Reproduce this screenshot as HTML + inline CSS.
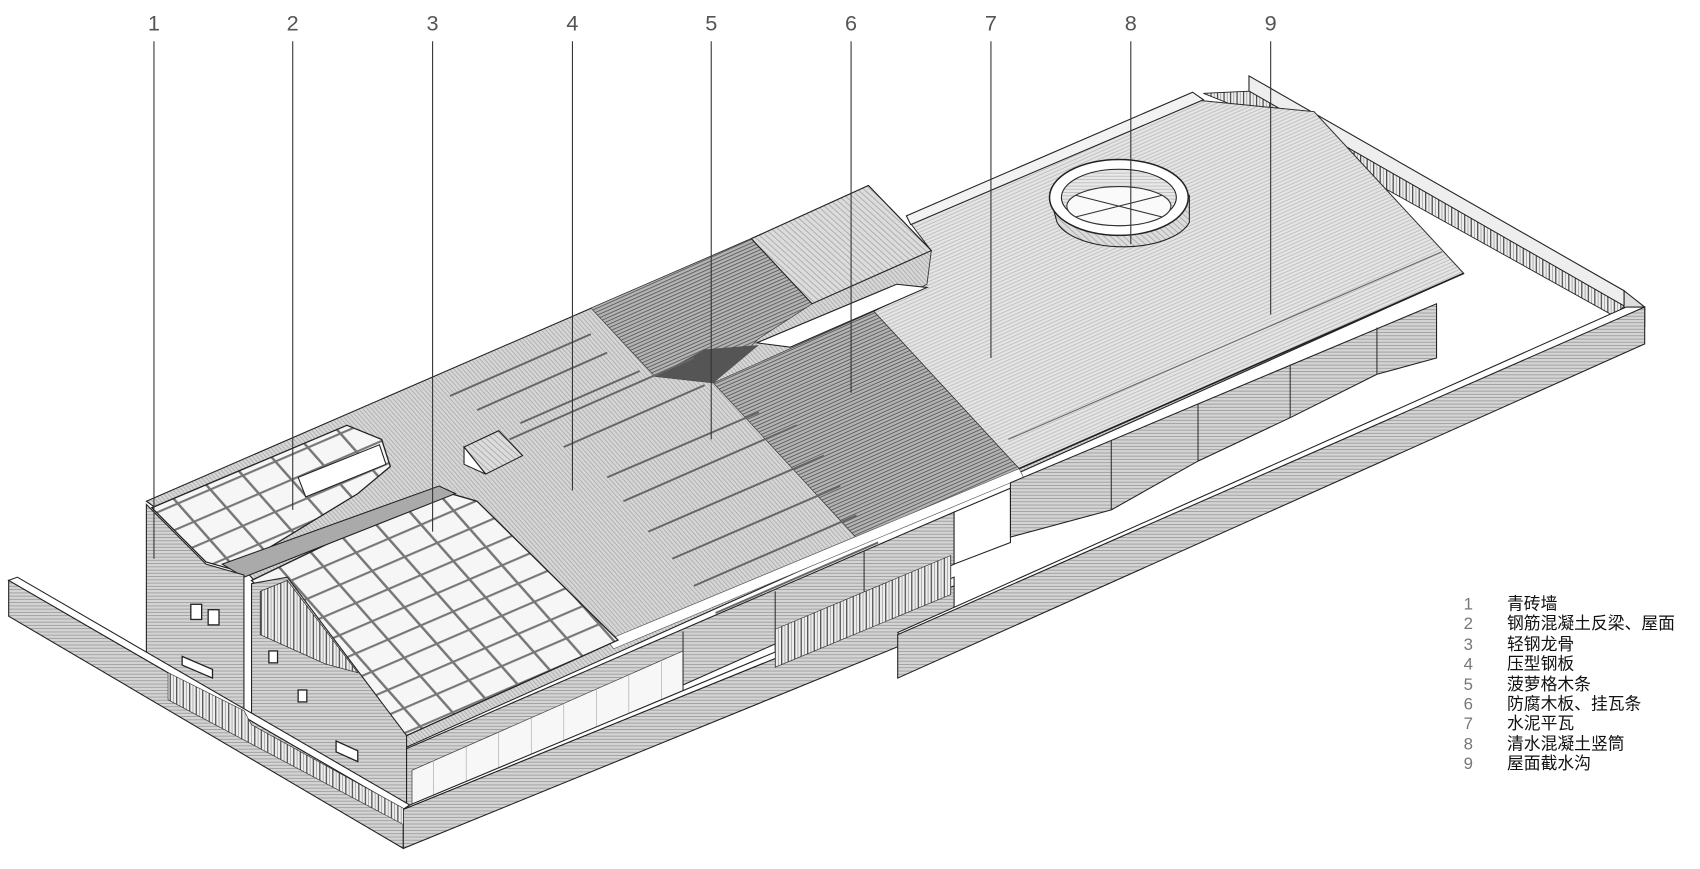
<!DOCTYPE html>
<html><head><meta charset="utf-8"><style>
html,body{margin:0;padding:0;background:#fff;}
svg{display:block;}
</style></head><body>
<svg width="1700" height="869" viewBox="0 0 1568 801" preserveAspectRatio="none" xmlns="http://www.w3.org/2000/svg">
<defs>
<pattern id="h1" width="4" height="3" patternUnits="userSpaceOnUse"><rect width="4" height="3" fill="#e8e8e8"/><line x1="0" y1="0.5" x2="4" y2="0.5" stroke="#b0b0b0" stroke-width="0.6"/></pattern>
<pattern id="hw" width="4" height="3" patternUnits="userSpaceOnUse"><rect width="4" height="3" fill="#d4d4d4"/><line x1="0" y1="0.5" x2="4" y2="0.5" stroke="#8a8a8a" stroke-width="0.6"/></pattern>
<pattern id="h2" width="3" height="3" patternUnits="userSpaceOnUse" patternTransform="rotate(-24)"><rect width="3" height="3" fill="#b4b4b4"/><line x1="0" y1="0.5" x2="3" y2="0.5" stroke="#555" stroke-width="0.8"/></pattern>
<pattern id="h3" width="3" height="3" patternUnits="userSpaceOnUse" patternTransform="rotate(48)"><rect width="3" height="3" fill="#d6d6d6"/><line x1="0" y1="0.5" x2="3" y2="0.5" stroke="#a0a0a0" stroke-width="0.6"/></pattern>
<pattern id="h1t" width="4" height="3" patternUnits="userSpaceOnUse" patternTransform="rotate(-24)"><rect width="4" height="3" fill="#e4e4e4"/><line x1="0" y1="0.5" x2="4" y2="0.5" stroke="#b0b0b0" stroke-width="0.6"/></pattern>
<pattern id="h4" width="4" height="4" patternUnits="userSpaceOnUse" patternTransform="rotate(42)"><rect width="4" height="4" fill="#dcdcdc"/><line x1="0" y1="0.5" x2="4" y2="0.5" stroke="#999" stroke-width="0.6"/></pattern>
<pattern id="v1" width="6" height="6" patternUnits="userSpaceOnUse"><rect width="6" height="6" fill="#eee"/><line x1="1" y1="0" x2="1" y2="6" stroke="#444" stroke-width="1.1"/><line x1="4" y1="0" x2="4" y2="6" stroke="#888" stroke-width="0.6"/></pattern>
<pattern id="gl" width="30" height="24" patternUnits="userSpaceOnUse" patternTransform="matrix(1,-0.43,0.62,0.7,0,0)"><rect width="30" height="24" fill="#f6f6f6"/><rect x="0" y="0" width="30" height="2.2" fill="#777"/><rect x="0" y="0" width="2.2" height="24" fill="#777"/></pattern>
</defs>

<!-- right back perimeter wall -->
<polygon points="1152,70 1498,268 1498,282 1152,84" fill="#eee" stroke="#222" stroke-width="1"/>
<polygon points="1110,86 1152,84 1498,282 1490,292 1145,100" fill="url(#v1)" stroke="#222" stroke-width="0.8"/>
<polygon points="1498,268 1517,283 1517,300 1498,285" fill="#ddd" stroke="#222"/>

<!-- roof base (steel 4) -->
<polygon points="135,462 693,220 801,171 859,231 840,206 1100,92 1212,103 1350,252 372,690 230,530" fill="url(#h3)" stroke="#222" stroke-width="1"/>

<!-- tile region 7 -->
<polygon points="806,287 855,262 859,231 840,206 1100,92 1212,103 1350,252 940,432" fill="url(#h1t)" stroke="#333" stroke-width="0.8"/>
<!-- back strip -->
<polygon points="836,199 1100,85 1110,92 840,207" fill="#f2f2f2" stroke="#222" stroke-width="1"/>
<!-- dark corrugated bands 5/6 -->
<polygon points="545,284 693,220 749,280 700,312 658,353 604,347" fill="url(#h2)" stroke="#333" stroke-width="0.6"/>
<polygon points="658,353 806,287 940,432 792,498" fill="url(#h2)" stroke="#333" stroke-width="0.6"/>
<polygon points="604,347 658,353 700,318 650,322" fill="#555"/>
<!-- raised panel -->
<polygon points="693,220 801,171 859,231 749,280" fill="url(#h4)" stroke="#222" stroke-width="1"/>
<!-- skylight slot -->
<polygon points="698,316 729,320 855,265 827,262" fill="#fff" stroke="#222"/>
<!-- small box -->
<polygon points="428,412 460,397 482,420 448,437" fill="url(#h4)" stroke="#222"/>
<polygon points="428,412 448,437 428,428" fill="#fff" stroke="#222"/>
<!-- stripes on steel -->
<g stroke="#666" stroke-width="1.8">
<line x1="415" y1="365" x2="545" y2="308"/><line x1="440" y1="378" x2="560" y2="325"/><line x1="480" y1="390" x2="590" y2="342"/>
<line x1="470" y1="405" x2="640" y2="330"/><line x1="520" y1="412" x2="650" y2="355"/>
<line x1="560" y1="440" x2="700" y2="380"/><line x1="575" y1="462" x2="735" y2="392"/><line x1="598" y1="490" x2="760" y2="420"/>
<line x1="620" y1="515" x2="775" y2="448"/><line x1="640" y1="540" x2="790" y2="475"/><line x1="660" y1="565" x2="810" y2="500"/>
</g>
<!-- eave light strip -->
<polygon points="560,590 940,432 944,440 566,598" fill="#fff" stroke="#555" stroke-width="0.6"/>

<!-- glass roofs -->
<polygon points="140,468 320,392 352,405 360,430 330,455 215,525 190,518" fill="url(#gl)" stroke="#222" stroke-width="1.2"/>
<polygon points="232,535 405,452 440,462 570,590 375,678" fill="url(#gl)" stroke="#222" stroke-width="1.2"/>
<polygon points="205,520 405,448 420,455 225,532" fill="#aaa" stroke="#222"/>
<polygon points="275,440 350,410 356,428 282,458" fill="#fff" stroke="#222"/>

<!-- left gable walls -->
<polygon points="135,465 190,520 225,530 225,690 135,640" fill="url(#hw)" stroke="#222" stroke-width="1"/>
<polygon points="232,538 265,532 375,678 375,745 232,668" fill="url(#hw)" stroke="#222" stroke-width="1"/>
<polygon points="240,545 265,535 330,620 300,612 240,585" fill="url(#v1)" stroke="#222" stroke-width="0.6"/>
<g fill="#fff" stroke="#222" stroke-width="1.2">
<rect x="176" y="557" width="10" height="14"/><rect x="192" y="562" width="10" height="14"/>
<polygon points="168,605 196,617 196,625 168,613"/>
<rect x="248" y="600" width="8" height="11"/><rect x="275" y="636" width="8" height="11"/>
<polygon points="310,683 330,692 330,702 310,693"/>
</g>

<!-- front facades -->
<polygon points="375,690 880,472 880,520 375,745" fill="url(#hw)" stroke="#222" stroke-width="1"/>
<polygon points="380,710 630,600 630,662 380,742" fill="#f7f7f7" stroke="#444" stroke-width="0.7"/>
<g stroke="#aaa" stroke-width="0.6">
<line x1="400" y1="701" x2="400" y2="736"/><line x1="430" y1="688" x2="430" y2="727"/><line x1="460" y1="675" x2="460" y2="717"/><line x1="490" y1="662" x2="490" y2="707"/><line x1="520" y1="649" x2="520" y2="697"/><line x1="550" y1="636" x2="550" y2="687"/><line x1="580" y1="623" x2="580" y2="677"/><line x1="610" y1="610" x2="610" y2="667"/>
</g>
<g stroke="#333" stroke-width="1"><line x1="630" y1="582" x2="630" y2="662"/><line x1="715" y1="545" x2="715" y2="625"/><line x1="797" y1="508" x2="797" y2="585"/></g>
<polygon points="880,472 932,450 932,500 880,520" fill="#fff" stroke="#222"/>
<polygon points="932,445 1325,280 1325,330 1270,345 1190,385 1105,425 1025,470 932,495" fill="url(#hw)" stroke="#222" stroke-width="1"/>
<g stroke="#333" stroke-width="1"><line x1="1025" y1="406" x2="1025" y2="470"/><line x1="1105" y1="372" x2="1105" y2="425"/><line x1="1190" y1="336" x2="1190" y2="385"/><line x1="1270" y1="302" x2="1270" y2="345"/></g>
<!-- gutter 9 -->
<polyline points="940,432 1350,252" fill="none" stroke="#222" stroke-width="1.5"/>
<polyline points="930,405 1330,232" fill="none" stroke="#666" stroke-width="1"/>

<!-- cylinder 8 -->
<path d="M968,180 L975,205 A63,30 0 0 0 1097,205 L1097,180 Z" fill="url(#h4)" stroke="#222"/>
<ellipse cx="1032" cy="182" rx="64" ry="35" fill="#fff" stroke="#222" stroke-width="1.4"/>
<ellipse cx="1032" cy="182" rx="53" ry="26" fill="url(#h1)" stroke="#222"/>
<ellipse cx="1032" cy="190" rx="48" ry="18" fill="#fafafa" stroke="#333"/>
<line x1="992" y1="180" x2="1072" y2="200" stroke="#333"/><line x1="992" y1="200" x2="1072" y2="180" stroke="#333"/>

<!-- perimeter walls -->
<polygon points="8,535 16,532 378,742 372,746" fill="#fff" stroke="#222"/>
<polygon points="8,535 372,746 372,782 8,568" fill="url(#hw)" stroke="#222" stroke-width="1"/>
<polygon points="372,746 880,540 880,575 372,782" fill="url(#hw)" stroke="#222" stroke-width="1"/>
<polygon points="378,742 880,532 880,540 372,746" fill="#fff" stroke="#222"/>
<polygon points="828,583 1500,283 1517,283 832,590" fill="#fff" stroke="#222"/>
<polygon points="828,585 1517,283 1517,317 828,625" fill="url(#hw)" stroke="#222" stroke-width="1"/>
<!-- brick screens -->
<polygon points="715,580 877,512 877,548 715,615" fill="url(#v1)" stroke="#333" stroke-width="0.6"/>
<polygon points="155,620 225,655 232,668 372,745 372,760 155,645" fill="url(#v1)" stroke="#333" stroke-width="0.6"/>

<!-- leader lines -->
<g stroke="#333" stroke-width="1">
<line x1="142" y1="38" x2="142" y2="515"/><line x1="270" y1="38" x2="270" y2="470"/><line x1="399" y1="38" x2="399" y2="490"/>
<line x1="528" y1="38" x2="528" y2="452"/><line x1="656" y1="38" x2="656" y2="405"/><line x1="785" y1="38" x2="785" y2="362"/>
<line x1="914" y1="38" x2="914" y2="330"/><line x1="1043" y1="38" x2="1043" y2="225"/><line x1="1172" y1="38" x2="1172" y2="290"/>
</g>
<g font-family="Liberation Sans, sans-serif" font-size="20" fill="#555" text-anchor="middle">
<text x="142" y="28">1</text><text x="270" y="28">2</text><text x="399" y="28">3</text><text x="528" y="28">4</text><text x="656" y="28">5</text><text x="785" y="28">6</text><text x="914" y="28">7</text><text x="1043" y="28">8</text><text x="1172" y="28">9</text>
</g>
<g font-family="Liberation Sans, 'Noto Sans CJK SC', sans-serif" font-size="15.5" fill="#111">
<g fill="#777"><text x="1350" y="562">1</text><text x="1350" y="580">2</text><text x="1350" y="599">3</text><text x="1350" y="617">4</text><text x="1350" y="636">5</text><text x="1350" y="654">6</text><text x="1350" y="672">7</text><text x="1350" y="691">8</text><text x="1350" y="709">9</text></g>
<text x="1390" y="562">青砖墙</text><text x="1390" y="580">钢筋混凝土反梁、屋面</text><text x="1390" y="599">轻钢龙骨</text><text x="1390" y="617">压型钢板</text><text x="1390" y="636">菠萝格木条</text><text x="1390" y="654">防腐木板、挂瓦条</text><text x="1390" y="672">水泥平瓦</text><text x="1390" y="691">清水混凝土竖筒</text><text x="1390" y="709">屋面截水沟</text>
</g>
</svg>
</body></html>
